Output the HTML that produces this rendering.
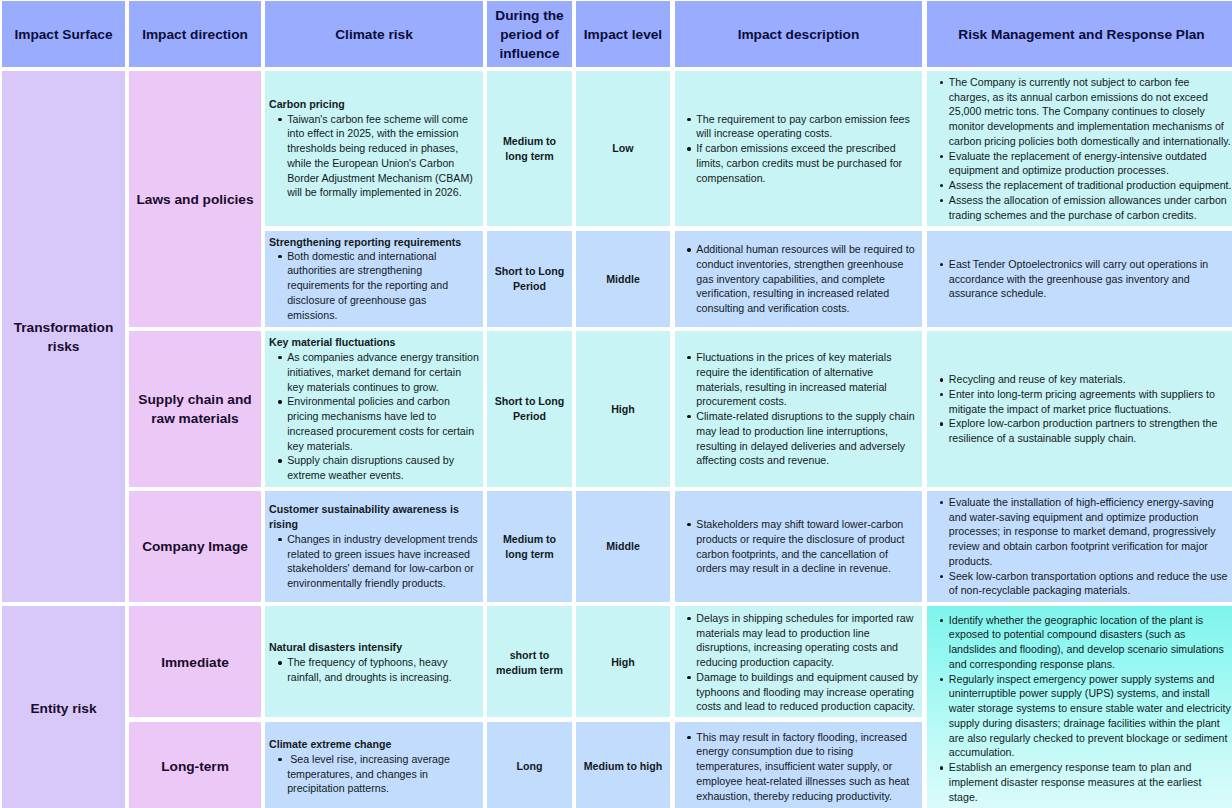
<!DOCTYPE html>
<html><head><meta charset="utf-8"><style>
*{margin:0;padding:0;box-sizing:border-box}
html,body{width:1232px;height:808px;overflow:hidden;background:#fff}
body{position:relative;font-family:"Liberation Sans",sans-serif;color:#141a1c}
.c{position:absolute;display:flex;align-items:center;overflow:hidden}
.ctr{justify-content:center;text-align:center}
.hd{font-weight:bold;font-size:13.7px;line-height:19px;color:#0c0c3a;white-space:nowrap}
.lb{font-weight:bold;font-size:13.7px;line-height:19px;color:#1a0c2c;white-space:nowrap}
.bd{font-weight:bold;font-size:10.65px;line-height:14.75px;white-space:nowrap}
.blk{font-size:10.65px;line-height:14.75px;white-space:nowrap}
.h{font-weight:bold}
.li{position:relative;padding-left:var(--ind)}
.li::before{content:"";position:absolute;left:var(--bx);top:var(--by);width:3.4px;height:3.4px;border-radius:50%;background:#111}
.c3{padding-left:4px;--ind:18.2px;--bx:9.2px;--by:6px}
.c6{padding-left:4px;--ind:17.3px;--bx:8.2px;--by:6px}
.r5>div{position:relative;top:1px}
.c3.r2 .li{position:relative;top:-1px}
.c7{padding-left:4px;--ind:17.8px;--bx:8.6px;--by:6px}
</style></head>
<body>
<div class="c ctr" style="left:2px;top:1px;width:123px;height:66px;background:#99acfd;"><div class="hd">Impact Surface</div></div>
<div class="c ctr" style="left:129px;top:1px;width:132px;height:66px;background:#99acfd;"><div class="hd">Impact direction</div></div>
<div class="c ctr" style="left:265px;top:1px;width:218px;height:66px;background:#99acfd;"><div class="hd">Climate risk</div></div>
<div class="c ctr" style="left:487px;top:1px;width:85px;height:66px;background:#99acfd;"><div class="hd">During the<br>period of<br>influence</div></div>
<div class="c ctr" style="left:576px;top:1px;width:94px;height:66px;background:#99acfd;"><div class="hd">Impact level</div></div>
<div class="c ctr" style="left:675px;top:1px;width:247px;height:66px;background:#99acfd;"><div class="hd">Impact description</div></div>
<div class="c ctr" style="left:927px;top:1px;width:309px;height:66px;background:#99acfd;"><div class="hd">Risk Management and Response Plan</div></div>
<div class="c ctr" style="left:2px;top:71px;width:123px;height:531px;background:#d8c8fa;"><div class="lb">Transformation<br>risks</div></div>
<div class="c ctr" style="left:2px;top:606px;width:123px;height:205px;background:#d8c8fa;"><div class="lb">Entity risk</div></div>
<div class="c ctr" style="left:129px;top:71px;width:132px;height:256px;background:#ecc8f6;"><div class="lb">Laws and policies</div></div>
<div class="c ctr" style="left:129px;top:331px;width:132px;height:156px;background:#ecc8f6;"><div class="lb">Supply chain and<br>raw materials</div></div>
<div class="c ctr" style="left:129px;top:491px;width:132px;height:111px;background:#ecc8f6;"><div class="lb">Company Image</div></div>
<div class="c ctr r5" style="left:129px;top:606px;width:132px;height:111px;background:#ecc8f6;"><div class="lb">Immediate</div></div>
<div class="c ctr" style="left:129px;top:722px;width:132px;height:89px;background:#ecc8f6;"><div class="lb">Long-term</div></div>
<div class="c lft c3 r1" style="left:265px;top:71px;width:218px;height:155px;background:#c8f4f5;"><div class="blk"><div class="h">Carbon pricing</div><div class="li">Taiwan's carbon fee scheme will come<br>into effect in 2025, with the emission<br>thresholds being reduced in phases,<br>while the European Union's Carbon<br>Border Adjustment Mechanism (CBAM)<br>will be formally implemented in 2026.</div></div></div>
<div class="c ctr r1" style="left:487px;top:71px;width:85px;height:155px;background:#c8f4f5;"><div class="bd">Medium to<br>long term</div></div>
<div class="c ctr r1" style="left:576px;top:71px;width:94px;height:155px;background:#c8f4f5;"><div class="bd">Low</div></div>
<div class="c lft c6 r1" style="left:675px;top:71px;width:247px;height:155px;background:#c8f4f5;"><div class="blk"><div class="li">The requirement to pay carbon emission fees<br>will increase operating costs.</div><div class="li">If carbon emissions exceed the prescribed<br>limits, carbon credits must be purchased for<br>compensation.</div></div></div>
<div class="c lft c3 r2" style="left:265px;top:231px;width:218px;height:96px;background:#c2dcfd;"><div class="blk"><div class="h">Strengthening reporting requirements</div><div class="li">Both domestic and international<br>authorities are strengthening<br>requirements for the reporting and<br>disclosure of greenhouse gas<br>emissions.</div></div></div>
<div class="c ctr r2" style="left:487px;top:231px;width:85px;height:96px;background:#c2dcfd;"><div class="bd">Short to Long<br>Period</div></div>
<div class="c ctr r2" style="left:576px;top:231px;width:94px;height:96px;background:#c2dcfd;"><div class="bd">Middle</div></div>
<div class="c lft c6 r2" style="left:675px;top:231px;width:247px;height:96px;background:#c2dcfd;"><div class="blk"><div class="li">Additional human resources will be required to<br>conduct inventories, strengthen greenhouse<br>gas inventory capabilities, and complete<br>verification, resulting in increased related<br>consulting and verification costs.</div></div></div>
<div class="c lft c3 r3" style="left:265px;top:331px;width:218px;height:156px;background:#c8f4f5;"><div class="blk"><div class="h">Key material fluctuations</div><div class="li">As companies advance energy transition<br>initiatives, market demand for certain<br>key materials continues to grow.</div><div class="li">Environmental policies and carbon<br>pricing mechanisms have led to<br>increased procurement costs for certain<br>key materials.</div><div class="li">Supply chain disruptions caused by<br>extreme weather events.</div></div></div>
<div class="c ctr r3" style="left:487px;top:331px;width:85px;height:156px;background:#c8f4f5;"><div class="bd">Short to Long<br>Period</div></div>
<div class="c ctr r3" style="left:576px;top:331px;width:94px;height:156px;background:#c8f4f5;"><div class="bd">High</div></div>
<div class="c lft c6 r3" style="left:675px;top:331px;width:247px;height:156px;background:#c8f4f5;"><div class="blk"><div class="li">Fluctuations in the prices of key materials<br>require the identification of alternative<br>materials, resulting in increased material<br>procurement costs.</div><div class="li">Climate-related disruptions to the supply chain<br>may lead to production line interruptions,<br>resulting in delayed deliveries and adversely<br>affecting costs and revenue.</div></div></div>
<div class="c lft c3 r4" style="left:265px;top:491px;width:218px;height:111px;background:#c2dcfd;"><div class="blk"><div class="h">Customer sustainability awareness is<br>rising</div><div class="li">Changes in industry development trends<br>related to green issues have increased<br>stakeholders' demand for low-carbon or<br>environmentally friendly products.</div></div></div>
<div class="c ctr r4" style="left:487px;top:491px;width:85px;height:111px;background:#c2dcfd;"><div class="bd">Medium to<br>long term</div></div>
<div class="c ctr r4" style="left:576px;top:491px;width:94px;height:111px;background:#c2dcfd;"><div class="bd">Middle</div></div>
<div class="c lft c6 r4" style="left:675px;top:491px;width:247px;height:111px;background:#c2dcfd;"><div class="blk"><div class="li">Stakeholders may shift toward lower-carbon<br>products or require the disclosure of product<br>carbon footprints, and the cancellation of<br>orders may result in a decline in revenue.</div></div></div>
<div class="c lft c3 r5" style="left:265px;top:606px;width:218px;height:111px;background:#c8f4f5;"><div class="blk"><div class="h">Natural disasters intensify</div><div class="li">The frequency of typhoons, heavy<br>rainfall, and droughts is increasing.</div></div></div>
<div class="c ctr r5" style="left:487px;top:606px;width:85px;height:111px;background:#c8f4f5;"><div class="bd">short to<br>medium term</div></div>
<div class="c ctr r5" style="left:576px;top:606px;width:94px;height:111px;background:#c8f4f5;"><div class="bd">High</div></div>
<div class="c lft c6 r5" style="left:675px;top:606px;width:247px;height:111px;background:#c8f4f5;"><div class="blk"><div class="li">Delays in shipping schedules for imported raw<br>materials may lead to production line<br>disruptions, increasing operating costs and<br>reducing production capacity.</div><div class="li">Damage to buildings and equipment caused by<br>typhoons and flooding may increase operating<br>costs and lead to reduced production capacity.</div></div></div>
<div class="c lft c3 r6" style="left:265px;top:722px;width:218px;height:89px;background:#c2dcfd;"><div class="blk"><div class="h">Climate extreme change</div><div class="li"> Sea level rise, increasing average<br>temperatures, and changes in<br>precipitation patterns.</div></div></div>
<div class="c ctr r6" style="left:487px;top:722px;width:85px;height:89px;background:#c2dcfd;"><div class="bd">Long</div></div>
<div class="c ctr r6" style="left:576px;top:722px;width:94px;height:89px;background:#c2dcfd;"><div class="bd">Medium to high</div></div>
<div class="c lft c6 r6" style="left:675px;top:722px;width:247px;height:89px;background:#c2dcfd;"><div class="blk"><div class="li">This may result in factory flooding, increased<br>energy consumption due to rising<br>temperatures, insufficient water supply, or<br>employee heat-related illnesses such as heat<br>exhaustion, thereby reducing productivity.</div></div></div>
<div class="c lft c7" style="left:927px;top:71px;width:309px;height:155px;background:#c8f4f5;"><div class="blk"><div class="li">The Company is currently not subject to carbon fee<br>charges, as its annual carbon emissions do not exceed<br>25,000 metric tons. The Company continues to closely<br>monitor developments and implementation mechanisms of<br>carbon pricing policies both domestically and internationally.</div><div class="li">Evaluate the replacement of energy-intensive outdated<br>equipment and optimize production processes.</div><div class="li">Assess the replacement of traditional production equipment.</div><div class="li">Assess the allocation of emission allowances under carbon<br>trading schemes and the purchase of carbon credits.</div></div></div>
<div class="c lft c7" style="left:927px;top:231px;width:309px;height:96px;background:#c2dcfd;"><div class="blk"><div class="li">East Tender Optoelectronics will carry out operations in<br>accordance with the greenhouse gas inventory and<br>assurance schedule.</div></div></div>
<div class="c lft c7" style="left:927px;top:331px;width:309px;height:156px;background:#c8f4f5;"><div class="blk"><div class="li">Recycling and reuse of key materials.</div><div class="li">Enter into long-term pricing agreements with suppliers to<br>mitigate the impact of market price fluctuations.</div><div class="li">Explore low-carbon production partners to strengthen the<br>resilience of a sustainable supply chain.</div></div></div>
<div class="c lft c7" style="left:927px;top:491px;width:309px;height:111px;background:#c2dcfd;"><div class="blk"><div class="li">Evaluate the installation of high-efficiency energy-saving<br>and water-saving equipment and optimize production<br>processes; in response to market demand, progressively<br>review and obtain carbon footprint verification for major<br>products.</div><div class="li">Seek low-carbon transportation options and reduce the use<br>of non-recyclable packaging materials.</div></div></div>
<div class="c lft c7" style="left:927px;top:606px;width:309px;height:205px;background:linear-gradient(180deg,#7ef4ec 0%,#98f8f2 29%,#c6faf7 73%,#dafcfb 100%);"><div class="blk"><div class="li">Identify whether the geographic location of the plant is<br>exposed to potential compound disasters (such as<br>landslides and flooding), and develop scenario simulations<br>and corresponding response plans.</div><div class="li">Regularly inspect emergency power supply systems and<br>uninterruptible power supply (UPS) systems, and install<br>water storage systems to ensure stable water and electricity<br>supply during disasters; drainage facilities within the plant<br>are also regularly checked to prevent blockage or sediment<br>accumulation.</div><div class="li">Establish an emergency response team to plan and<br>implement disaster response measures at the earliest<br>stage.</div></div></div>
</body></html>
